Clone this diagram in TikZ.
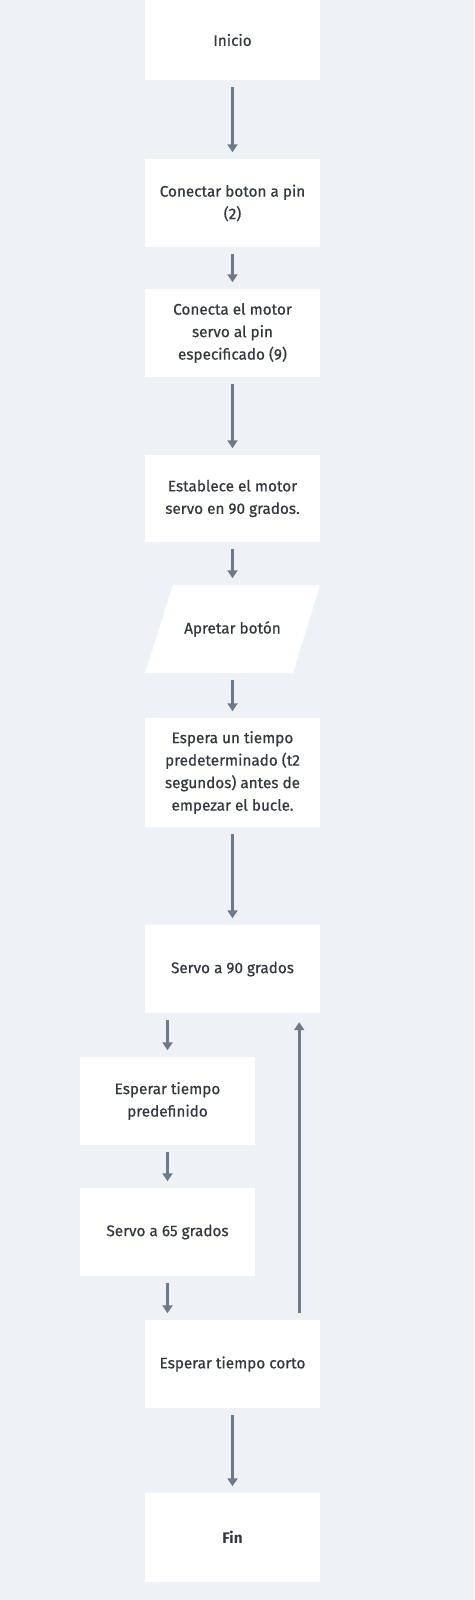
\documentclass[tikz,border=0pt]{standalone}
\usepackage{fontspec}
\setmainfont{Fira Sans}[FakeBold=0.6]
\newfontfamily\finfont{Fira Sans}
\usetikzlibrary{arrows.meta}
\definecolor{bgc}{HTML}{EEF1F5}
\definecolor{arrc}{HTML}{6E7A88}
\definecolor{txtc}{HTML}{33383E}
\begin{document}
\begin{tikzpicture}[x=1pt,y=1pt,
  box/.style={fill=white,draw=none,minimum width=175pt,inner sep=0pt,align=center,text=txtc,font=\fontsize{15.3}{22.5}\selectfont},
  flow/.style={draw=arrc,line width=2.6pt,-{Triangle[width=10pt,length=8pt]},shorten >=6.5pt,shorten <=6.5pt}]
\useasboundingbox (0,0) rectangle (474,-1600);
\fill[bgc] (0,0) rectangle (474,-1600);
% nodes
\node[box,minimum height=80pt] (b1) at (232.5,-40) {Inicio};
\node[box,minimum height=88pt] (b2) at (232.5,-203) {Conectar boton a pin\\(2)};
\node[box,minimum height=88pt] (b3) at (232.5,-333) {Conecta el motor\\servo al pin\\especificado (9)};
\node[box,minimum height=87pt] (b4) at (232.5,-498.5) {Establece el motor\\servo en 90 grados.};
\fill[white] (145,-673) -- (293,-673) -- (320,-585) -- (173,-585) -- cycle;
\node[box,fill=none,minimum width=120pt,minimum height=88pt] (p) at (232.5,-629) {Apretar botón};
\node[box,minimum height=109pt] (b6) at (232.5,-772.5) {Espera un tiempo\\predeterminado (t2\\segundos) antes de\\empezar el bucle.};
\node[box,minimum height=88pt] (b7) at (232.5,-969) {Servo a 90 grados};
\node[box,minimum height=88pt] (l1) at (167.5,-1101) {Esperar tiempo\\predefinido};
\node[box,minimum height=88pt] (l2) at (167.5,-1232) {Servo a 65 grados};
\node[box,minimum height=88pt] (b9) at (232.5,-1364) {Esperar tiempo corto};
\node[box,minimum height=89pt,font=\fontsize{15.3}{22.5}\finfont\bfseries] (fin) at (232.5,-1537.5) {Fin};
% connectors
\draw[flow] (b1) -- (b2);
\draw[flow] (b2) -- (b3);
\draw[flow] (b3) -- (b4);
\draw[flow] (b4) -- (p);
\draw[flow] (p) -- (b6);
\draw[flow] (b6) -- (b7);
\draw[flow] (l1.north |- b7.south) -- (l1.north);
\draw[flow] (l1) -- (l2);
\draw[flow] (l2.south) -- (l2.south |- b9.north);
\draw[flow,shorten >=9pt] ([xshift=-21pt]b9.north east) -- ([xshift=-21pt]b7.south east);
\draw[flow] (b9) -- (fin);
\end{tikzpicture}
\end{document}
